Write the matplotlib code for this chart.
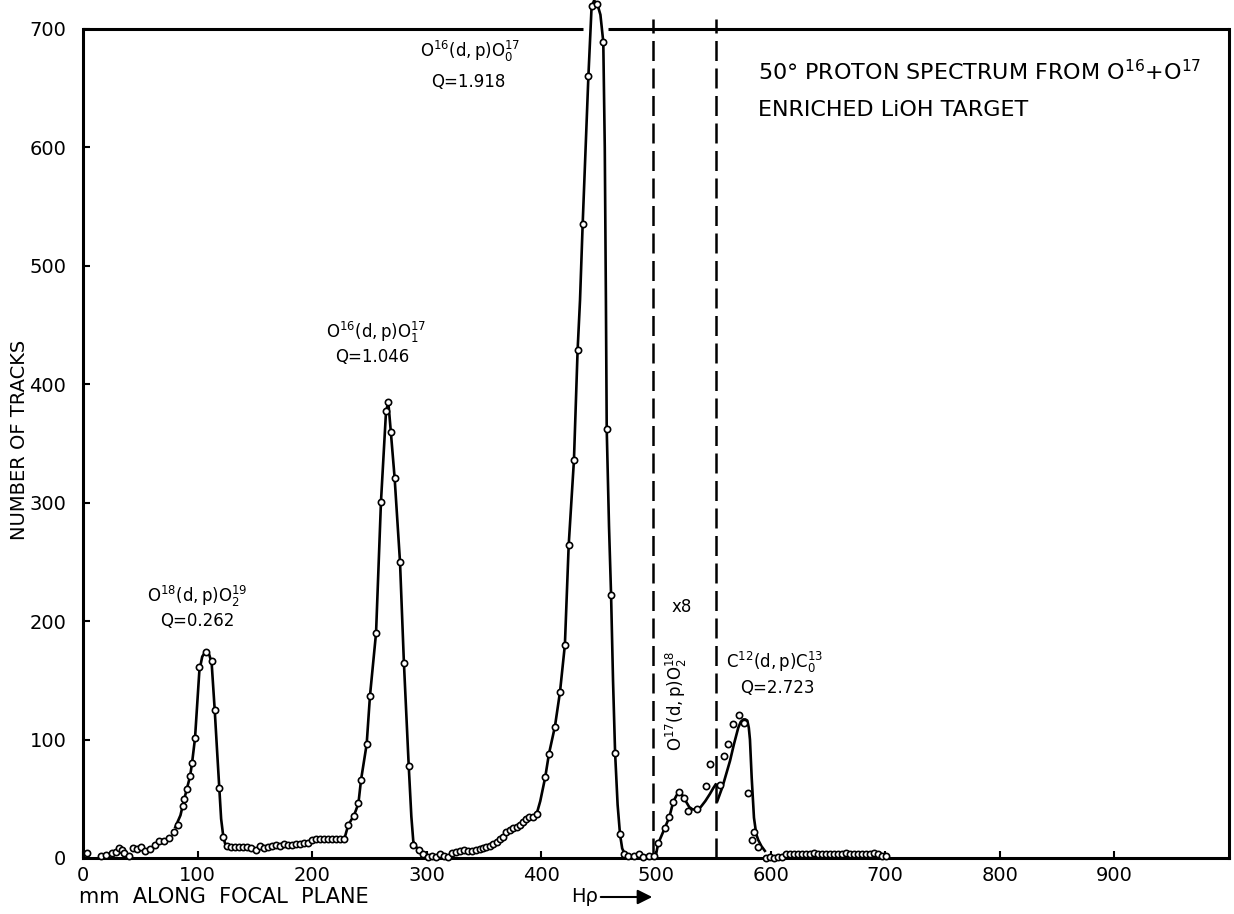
import matplotlib
matplotlib.use("Agg")
import matplotlib.pyplot as plt

plt.rcParams['font.family'] = ['DejaVu Sans']
plt.rcParams['mathtext.fontset'] = 'dejavusans'

low_x = [3.8, 15.4, 20, 25, 28.8, 31.7, 33.7, 36, 40.4, 43.3, 46.8, 50.6, 54, 58.5,
         62.8, 66.6, 70.7, 75, 79.4]
low_y = [4.5, 1.7, 2.8, 3.9, 5.3, 8.4, 6.8, 3.9, 1.7, 8.4, 7.3, 9, 6, 7.3,
         11, 14.4, 14.5, 17, 22]

peak1_x = [82.6, 87, 88.4, 90.5, 93.4, 95.1, 97.7, 101.5, 107.3, 112.2, 114.9, 118.9, 122.4]
peak1_y = [28, 44, 50, 58, 69, 80, 101, 161, 174, 166, 125, 59, 18]

flat1_x = [126, 129.5, 133, 136.5, 140, 143.5, 147, 150.5, 154, 157.5, 161, 164.5, 168,
           171.5, 175, 178.5, 182, 185.5, 189, 192.5, 196, 199.5, 203, 206.5, 210, 213.5,
           217, 220.5, 224, 227.5]
flat1_y = [10, 9, 9, 9, 9, 9, 8, 7, 10, 8, 9, 10, 11,
           10, 12, 11, 11, 12, 12, 13, 13, 15, 16, 16, 16, 16,
           16, 16, 16, 16]

peak2_x = [231.5, 236.5, 240.3, 242.6, 247.5, 250.4, 255.7, 260, 264.4, 266.4, 268.4,
           271.9, 276.6, 280, 284.2, 288.2, 293]
peak2_y = [28, 35.5, 46, 66, 96, 137, 190, 301, 377, 385, 360,
           321, 250, 165, 78, 11, 7]

flat2_x = [297, 301, 304.5, 308, 311.5, 315, 318.5, 322, 325.5, 329, 332.5, 336, 339.5,
           343, 346, 349, 352, 355.5, 358, 361, 364, 366.5, 369, 372.6, 375.5, 378.4,
           381, 384, 386.5, 389.4, 392.5]
flat2_y = [3, 1, 2, 1, 3, 2, 1, 4, 5, 6, 7, 6, 6,
           7, 7.3, 8, 9.5, 10, 12, 13.8, 16, 18, 22, 24, 25, 26.4,
           28, 30.7, 33, 34.8, 35]

peak3_x = [395.8, 403.3, 406.6, 411.8, 416.2, 420.5, 423.8, 428.4, 431.6, 436, 441,
           443.8, 448.8, 454, 457, 460.8, 464.3, 468.6, 472]
peak3_y = [37, 68, 88, 111, 140, 180, 264, 336, 429, 535, 660,
           719, 721, 689, 362, 222, 89, 20, 3.4]

gap_x = [476, 480.5, 484.8, 489, 493.6, 498]
gap_y = [2, 2, 3, 1, 2, 2]

x8_x = [502, 507.8, 511.6, 515.1, 520, 524.4, 528.1, 536, 543.6, 547]
x8_y = [12.4, 25.6, 34.4, 47.5, 56, 51, 40, 41.6, 61, 79.4]

c12_x = [555.8, 559.6, 563, 567.4, 572.2, 577, 580, 584, 585.8, 588.7]
c12_y = [62, 86, 96, 113, 121, 114, 55, 15, 22, 9.5]

tail_x = [596, 599.5, 603, 606.5, 610, 613.5, 617, 620.5, 624, 627.5, 631, 634.5, 638,
          641.5, 645, 648.5, 652, 655.5, 659, 662.5, 666, 669.5, 673, 676.5, 680, 683.5,
          687, 690.5, 694, 697.5, 701]
tail_y = [0, 1, 0, 1, 1, 3, 3, 3, 3, 3, 3, 3, 4,
          3, 3, 3, 3, 3, 3, 3, 4, 3, 3, 3, 3, 3,
          3, 4, 3, 2, 2]

# hand-drawn curves, traced from the plate
curve1_x = [80.5, 85, 88.4, 90.5, 93.4, 95.1, 97.7, 99.5, 101.5, 104, 107.3, 110, 112.2,
            114.9, 117, 118.9, 120.5, 122.4, 124, 126.5]
curve1_y = [26, 36, 50, 58, 69, 80, 101, 128, 158, 170, 175, 172, 165,
            125, 90, 59, 33, 18, 12, 10]

curve2_x = [228, 231.5, 236.5, 240.3, 242.6, 247.5, 250.4, 255.7, 260, 264.4, 266.4, 268.4,
            271.9, 276.6, 280, 284.2, 286.5, 288.2, 291]
curve2_y = [16, 28, 36, 46, 66, 96, 137, 190, 301, 377, 385, 362,
            321, 250, 165, 78, 35, 14, 9]

curve3_x = [395.8, 399, 403.3, 406.6, 411.8, 416.2, 420.5, 423.8, 428.4, 431.6, 433.7, 436,
            441, 443.8, 446, 448.8, 451.5, 454, 455.3, 456.3, 457, 459, 460.8, 462.5, 464.3,
            466.5, 468.6, 470.5, 473, 476]
curve3_y = [37, 48, 68, 88, 111, 140, 180, 264, 336, 429, 471, 535,
            660, 719, 724, 721, 712, 689, 600, 470, 362, 280, 222, 150, 89,
            45, 20, 8, 3, 1]

curve4_x = [497, 500, 502, 507.8, 511.6, 515.1, 518, 520.5, 523, 526, 529, 532, 535.4,
            539, 543, 547, 550, 552]
curve4_y = [0, 3, 12.4, 25.6, 34.4, 47.5, 53, 55.5, 53, 48, 43, 41, 41,
            43, 48, 54, 59, 62]

curve5_x = [553.5, 558, 561, 564.6, 568, 571.8, 574, 576.2, 578, 579.7, 581, 582, 583.5,
            585.5, 587.5, 589.3, 592, 595]
curve5_y = [48, 60, 70, 82, 96, 110, 115, 117, 117, 116, 110, 100, 68,
            34, 20, 15, 10, 6]

x8_limits = [497, 552]
x_ticks = [0, 100, 200, 300, 400, 500, 600, 700, 800, 900]
y_ticks = [0, 100, 200, 300, 400, 500, 600, 700]

fig = plt.figure(figsize=(12.34, 9.14), dpi=100)
ax = fig.add_axes([0.0673, 0.0613, 0.9286, 0.907])
ax.set_xlim(0, 1000)
ax.set_ylim(0, 700)

curves = [(curve1_x, curve1_y), (curve2_x, curve2_y), (curve3_x, curve3_y),
          (curve4_x, curve4_y), (curve5_x, curve5_y)]
for cx, cy in curves:
    ax.plot(cx, cy, color='black', lw=1.9, clip_on=False, zorder=2)

points = [(low_x, low_y), (peak1_x, peak1_y), (flat1_x, flat1_y), (peak2_x, peak2_y),
          (flat2_x, flat2_y), (peak3_x, peak3_y), (gap_x, gap_y), (x8_x, x8_y),
          (c12_x, c12_y), (tail_x, tail_y)]
for px, py in points:
    ax.plot(px, py, 'o', ls='none', ms=4.5, mfc='white', mec='black', mew=1.2,
            clip_on=False, zorder=3)

# dashed borders of the x8 region
for xv in x8_limits:
    ax.plot([xv, xv], [0, 708], color='black', lw=1.8, ls=(0, (8, 3)),
            clip_on=False, zorder=1)

# frame: top edge is broken where the big peak runs through it
for s in ['left', 'right', 'bottom']:
    ax.spines[s].set_linewidth(2.2)
ax.spines['top'].set_visible(False)
ax.plot([0, 436], [700, 700], color='black', lw=2.2, clip_on=False, solid_capstyle='butt')
ax.plot([458, 1000], [700, 700], color='black', lw=2.2, clip_on=False, solid_capstyle='butt')

ax.set_xticks(x_ticks)
ax.set_yticks(y_ticks)
ax.tick_params(direction='in', length=5, width=1.5, labelsize=14)
ax.tick_params(axis='y', pad=12)
ax.tick_params(axis='x', pad=6)

# peak labels
lab = dict(ha='center', va='center', fontsize=12)
ax.text(100, 221, r'$\mathregular{O^{18}(d,p)O^{19}_{2}}$', **lab)
ax.text(99.5, 200, 'Q=0.262', **lab)
ax.text(256, 444, r'$\mathregular{O^{16}(d,p)O^{17}_{1}}$', **lab)
ax.text(252, 423, 'Q=1.046', **lab)
ax.text(338, 681, r'$\mathregular{O^{16}(d,p)O^{17}_{0}}$', **lab)
ax.text(336, 655, 'Q=1.918', **lab)
ax.text(522, 212, 'x8', **lab)
ax.text(517.5, 133, r'$\mathregular{O^{17}(d,p)O^{18}_{2}}$', rotation=90, **lab)
ax.text(604, 165, r'$\mathregular{C^{12}(d,p)C^{13}_{0}}$', **lab)
ax.text(606, 143.5, 'Q=2.723', **lab)

ax.text(589, 664, r'50° PROTON SPECTRUM FROM O$^{16}$+O$^{17}$',
        ha='left', va='center', fontsize=16)
ax.text(589, 632, 'ENRICHED LiOH TARGET', ha='left', va='center', fontsize=16)

fig.text(20 / 1234, 1 - 440 / 914, 'NUMBER OF TRACKS', rotation=90,
         ha='center', va='center', fontsize=14)
fig.text(79 / 1234, 1 - 897 / 914, 'mm  ALONG  FOCAL  PLANE',
         ha='left', va='center', fontsize=15)
fig.text(571 / 1234, 1 - 897 / 914, 'Hρ', ha='left', va='center', fontsize=14)
ax.annotate('', xy=(655 / 1234, 1 - 897 / 914), xytext=(598 / 1234, 1 - 897 / 914),
            xycoords='figure fraction', textcoords='figure fraction',
            arrowprops=dict(arrowstyle='-|>', lw=1.5, color='black', mutation_scale=22))

fig.savefig('out.png', dpi=100)
